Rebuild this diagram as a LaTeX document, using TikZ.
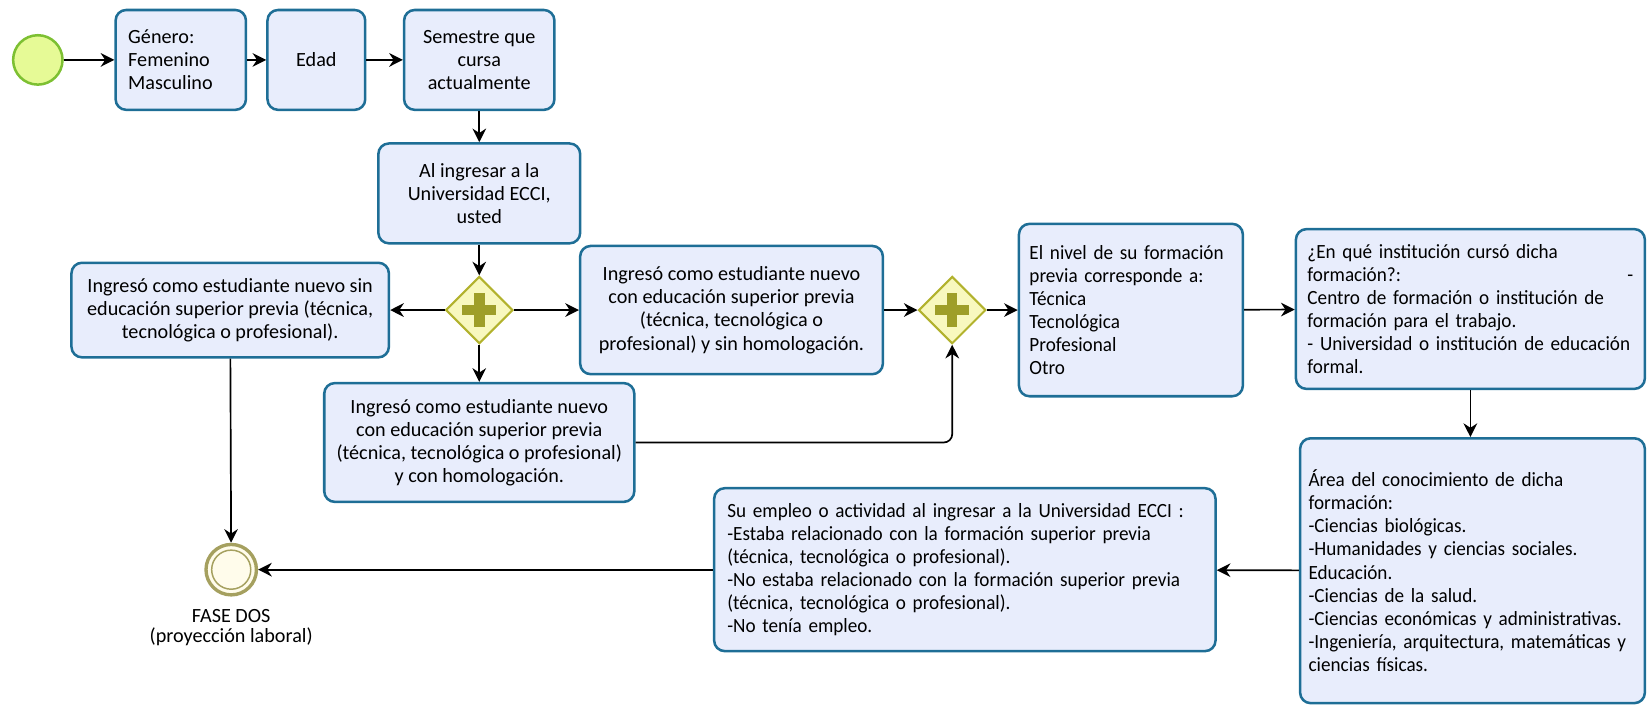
\documentclass[tikz,border=0pt]{standalone}
\usepackage{fontspec}
\setmainfont{Carlito}
\newfontfamily\condensedfont{Carlito}[FakeStretch=0.95,WordSpace=0.8]
\usetikzlibrary{arrows.meta,shapes.geometric}
\definecolor{boxfill}{RGB}{232,237,252}
\definecolor{boxdraw}{RGB}{30,110,150}
\definecolor{startfill}{RGB}{230,250,150}
\definecolor{startdraw}{RGB}{125,192,50}
\definecolor{gwfill}{RGB}{248,248,190}
\definecolor{gwdraw}{RGB}{178,178,45}
\definecolor{gwplus}{RGB}{158,158,40}
\definecolor{endfill}{RGB}{255,252,235}
\definecolor{enddraw}{RGB}{165,160,95}
\newcommand{\lineitem}[1]{\mbox{#1}}
\begin{document}
\begin{tikzpicture}[x=0.5pt,y=-0.5pt,
  task/.style={draw=boxdraw, fill=boxfill, rounded corners=5pt, line width=1.2pt,
    inner sep=0pt, font=\fontsize{9.6}{11}\selectfont},
  ltask/.style={task, font=\condensedfont\fontsize{9.6}{11}\selectfont, align=left},
  gateway/.style={diamond, draw=gwdraw, fill=gwfill, line width=1pt,
    minimum width=32pt, minimum height=32pt, inner sep=0pt},
  flow/.style={draw=black, line width=0.8pt, -{Stealth[length=6.5pt,width=6.5pt]}},
  plussign/.style={fill=gwplus}
]
\useasboundingbox (0,0) rectangle (1568,670);

% start event
\node[circle, draw=startdraw, fill=startfill, line width=1.2pt, minimum size=23.5pt, inner sep=0pt] (start) at (36,57) {};

% first row
\node[task, minimum width=62pt, minimum height=47.5pt, text width=50pt, align=left] (gen) at (172,57) {Género:\\Femenino\\Masculino};
\node[task, minimum width=46.5pt, minimum height=47.5pt, align=center] (edad) at (301,57) {Edad};
\node[task, minimum width=71.5pt, minimum height=47.5pt, align=center] (sem) at (456,57) {Semestre que\\cursa\\actualmente};

\node[task, minimum width=96pt, minimum height=47.5pt, align=center] (alin) at (456,184) {Al ingresar a la\\Universidad ECCI,\\usted};

% gateway 1
\node[gateway] (gw1) at (456,295) {};
\fill[plussign] ([shift={(-16,-5)}]gw1.center) rectangle ([shift={(16,5)}]gw1.center);
\fill[plussign] ([shift={(-5,-16)}]gw1.center) rectangle ([shift={(5,16)}]gw1.center);

\node[task, minimum width=151pt, minimum height=45pt, align=center] (sin) at (219,295) {Ingresó como estudiante nuevo sin\\educación superior previa (técnica,\\tecnológica o profesional).};
\node[task, minimum width=144pt, minimum height=61pt, align=center] (mid) at (696,295) {Ingresó como estudiante nuevo\\con educación superior previa\\(técnica, tecnológica o\\profesional) y sin homologación.};
\node[task, minimum width=147.5pt, minimum height=56.5pt, align=center] (bot) at (456,421) {Ingresó como estudiante nuevo\\con educación superior previa\\(técnica, tecnológica o profesional)\\y con homologación.};

% gateway 2
\node[gateway] (gw2) at (906,295) {};
\fill[plussign] ([shift={(-16,-5)}]gw2.center) rectangle ([shift={(16,5)}]gw2.center);
\fill[plussign] ([shift={(-5,-16)}]gw2.center) rectangle ([shift={(5,16)}]gw2.center);

\node[ltask, minimum width=106.5pt, minimum height=82pt, text width=96.5pt] (nivel) at (1076,295) {\lineitem{El nivel de su formación}\\\lineitem{previa corresponde a:}\\Técnica\\Tecnológica\\Profesional\\Otro};
\node[ltask, minimum width=166pt, minimum height=76pt, text width=155pt] (inst) at (1399,294) {\lineitem{¿En qué institución cursó dicha}\\formación?:\hfill -\\\lineitem{Centro de formación o institución de}\\\lineitem{formación para el trabajo.}\\\lineitem{- Universidad o institución de educación}\\formal.};
\node[ltask, minimum width=164pt, minimum height=126pt, text width=156pt] (area) at (1401,543) {\lineitem{Área del conocimiento de dicha}\\formación:\\\lineitem{-Ciencias biológicas.}\\\lineitem{-Humanidades y ciencias sociales.}\\Educación.\\\lineitem{-Ciencias de la salud.}\\\lineitem{-Ciencias económicas y administrativas.}\\\lineitem{-Ingeniería, arquitectura, matemáticas y}\\\lineitem{ciencias físicas.}};
\node[ltask, minimum width=238.5pt, minimum height=77.5pt, text width=226pt] (emp) at (918,542) {\lineitem{Su empleo o actividad al ingresar a la Universidad ECCI :}\\\lineitem{-Estaba relacionado con la formación superior previa}\\\lineitem{(técnica, tecnológica o profesional).}\\\lineitem{-No estaba relacionado con la formación superior previa}\\\lineitem{(técnica, tecnológica o profesional).}\\\lineitem{-No tenía empleo.}};

% end event
\node[circle, draw=enddraw, fill=endfill, line width=1.6pt, minimum size=24pt, inner sep=0pt] (end) at (220,542) {};
\draw[enddraw, line width=0.7pt] (end.center) circle[radius=9.3pt];
\node[anchor=north, align=center, inner sep=0pt, font=\fontsize{9.6}{9.5}\selectfont] (endlabel) at ([yshift=-6pt]end.south) {FASE DOS\\(proyección laboral)};

% connectors
\draw[flow] (start) -- (gen);
\draw[flow] (gen) -- (edad);
\draw[flow] (edad) -- (sem);
\draw[flow] (sem) -- (alin);
\draw[flow] (alin) -- (gw1);
\draw[flow] (gw1) -- (sin);
\draw[flow] (gw1) -- (mid);
\draw[flow] (gw1) -- (bot);
\draw[flow] (mid) -- (gw2);
\draw[flow, rounded corners=4pt] (bot.east) -| (gw2.south);
\draw[flow] (gw2) -- (nivel);
\draw[flow] (nivel) -- (inst);
\draw[flow] (inst.south) -- (inst.south |- area.north);
\draw[flow] (area) -- (emp);
\draw[flow] (emp) -- (end);
\draw[flow] (sin) -- (end);
\end{tikzpicture}
\end{document}
